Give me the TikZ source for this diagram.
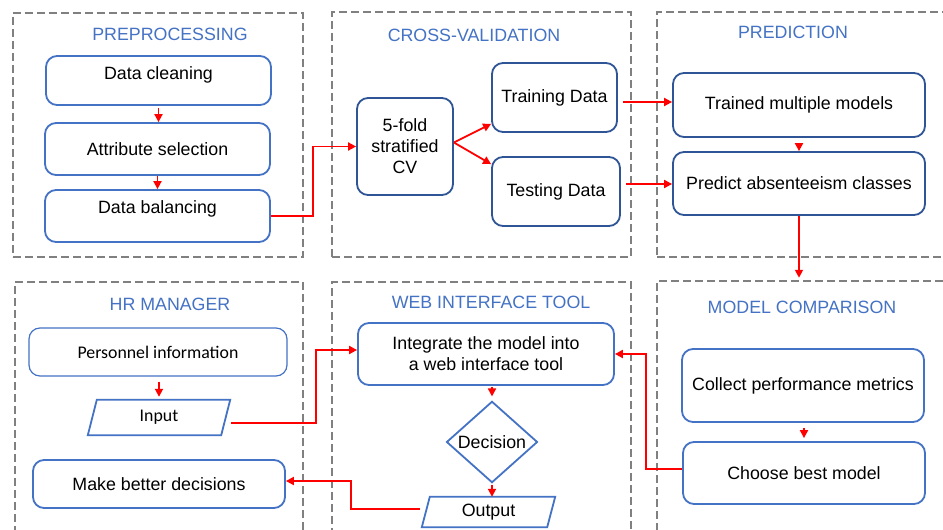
\documentclass[tikz,border=0pt]{standalone}
\usepackage{fontspec}
\setmainfont{Liberation Sans}
\newfontfamily\calib{Carlito}
\usetikzlibrary{arrows.meta,shapes.geometric}
\definecolor{tblue}{HTML}{4472C4}
\definecolor{dblue}{HTML}{2F5597}
\definecolor{gline}{HTML}{808080}
\definecolor{rline}{HTML}{FF0000}
\begin{document}
\begin{tikzpicture}[x=1pt,y=-1pt,
  every node/.style={font=\fontsize{17.8}{21}\selectfont, inner sep=0pt},
  group/.style={draw=gline, line width=2.5pt, dash pattern=on 8pt off 4pt},
  box/.style={draw=tblue, line width=1.8pt, rounded corners=11pt, align=center},
  dbox/.style={box, draw=dblue},
  ttl/.style={text=tblue},
  arr/.style={draw=rline, line width=1.8pt, -{Triangle[length=8pt,width=8pt]}},
  para/.style={draw=tblue, line width=1.8pt}
]
\useasboundingbox (0,0) rectangle (943,530);
\clip (0,0) rectangle (943,530);
\fill[white] (0,0) rectangle (943,530);

% group boxes
\node[group, minimum width=290pt, minimum height=244pt] (g1) at (158,135) {};
\node[group, minimum width=299pt, minimum height=245pt] (g2) at (481.5,134.5) {};
\node[group, minimum width=300pt, minimum height=245pt] (g3) at (807,134.5) {};
\node[group, minimum width=288pt, minimum height=260pt] (g4) at (159,412) {};
\node[group, minimum width=299pt, minimum height=260pt] (g5) at (481.5,412) {};
\node[group, minimum width=300pt, minimum height=262pt] (g6) at (807,412) {};

% titles
\node[ttl] (t1) at (170,34) {PREPROCESSING};
\node[ttl] (t2) at (474,35) {CROSS-VALIDATION};
\node[ttl] (t3) at (793,32) {PREDICTION};
\node[ttl] (t4) at (170,304) {HR MANAGER};
\node[ttl] (t5) at (491,302) {WEB INTERFACE TOOL};
\node[ttl] (t6) at (802,307) {MODEL COMPARISON};

% preprocessing
\node[box, minimum width=225pt, minimum height=49pt, label={[yshift=6pt]center:Data cleaning}] (dc) at (158.5,80.5) {};
\node[box, minimum width=225pt, minimum height=52pt] (as) at (157.5,149) {Attribute selection};
\node[box, minimum width=225pt, minimum height=52pt, label={[yshift=7pt]center:Data balancing}] (db) at (157.5,216) {};

% cross validation
\node[dbox, minimum width=96pt, minimum height=97pt] (cv) at (405,146.5) {5-fold\\stratified\\CV};
\node[dbox, minimum width=125pt, minimum height=69pt] (tr) at (554.5,97.5) {Training Data};
\node[dbox, minimum width=128pt, minimum height=69pt] (te) at (556,191.5) {Testing Data};

% prediction
\node[dbox, minimum width=252pt, minimum height=64pt] (tm) at (799,105) {Trained multiple models};
\node[dbox, minimum width=252pt, minimum height=63pt] (pa) at (799,183.5) {Predict absenteeism classes};

% HR manager
\node[box, line width=1.2pt, minimum width=258pt, minimum height=48pt, font=\calib\fontsize{17.8}{21}\selectfont] (pi) at (158,352) {Personnel information};
\node[minimum width=142pt, minimum height=35pt, font=\calib\fontsize{17.8}{21}\selectfont] (inp) at (159,417.5) {Input};
\draw[para] ([xshift=9pt]inp.north west) -- (inp.north east) -- ([xshift=-9pt]inp.south east) -- (inp.south west) -- cycle;
\node[box, minimum width=252pt, minimum height=48pt] (mb) at (159,484) {Make better decisions};

% web interface
\node[box, minimum width=256pt, minimum height=62pt] (ig) at (486,354) {Integrate the model into\\a web interface tool};
\node[draw=tblue, line width=1.8pt, diamond, minimum width=91pt, minimum height=78pt] (dec) at (492,442) {Decision};
\node[minimum width=133pt, minimum height=30pt] (out) at (488.5,512) {Output};
\draw[para] ([xshift=8pt]out.north west) -- (out.north east) -- ([xshift=-8pt]out.south east) -- (out.south west) -- cycle;

% model comparison
\node[box, minimum width=242pt, minimum height=73pt] (cp) at (803,385.5) {Collect performance metrics};
\node[box, minimum width=242pt, minimum height=62pt] (cb) at (804,473) {Choose best model};

% connectors
\draw[arr, shorten <=2pt] (dc.south) -- (dc.south |- as.north);
\draw[arr] (as.south) -- (as.south |- db.north);
\draw[arr] (db.east) -- ++(42,0) |- (cv.west);
\draw[arr] ([yshift=4pt]cv.east) -- ([yshift=9pt]tr.south west);
\draw[arr] ([yshift=4pt]cv.east) -- ([yshift=-8pt]te.north west);
\draw[arr] ([xshift=5pt,yshift=3pt]tr.east |- tm.west) -- ([yshift=3pt]tm.west);
\draw[arr] ([xshift=5pt,yshift=-0.5pt]te.east |- pa.west) -- ([yshift=-0.5pt]pa.west);
\draw[arr, shorten <=5pt] (tm.south) -- (tm.south |- pa.north);
\draw[arr, shorten >=2pt] (pa.south) -- (pa.south |- g6.north);
\draw[arr, shorten <=5pt, shorten >=3pt] (inp.north |- pi.south) -- (inp.north);
\draw[arr] ([xshift=1pt,yshift=-5.5pt]inp.east) -- ++(85,0) |- ([yshift=4pt]ig.west);
\draw[arr] ([yshift=4pt]cb.west) -- ++(-36,0) |- (ig.east);
\draw[arr, shorten <=1pt, shorten >=4pt] (dec.north |- ig.south) -- (dec.north);
\draw[arr, shorten <=5pt, shorten >=3pt] (cb.north |- cp.south) -- (cb.north);
\draw[arr, shorten <=1pt] (dec.south) -- (dec.south |- out.north);
\draw[arr] ([xshift=-2pt,yshift=3pt]out.west) -- ++(-69,0) |- ([yshift=3pt]mb.east);
\end{tikzpicture}
\end{document}
